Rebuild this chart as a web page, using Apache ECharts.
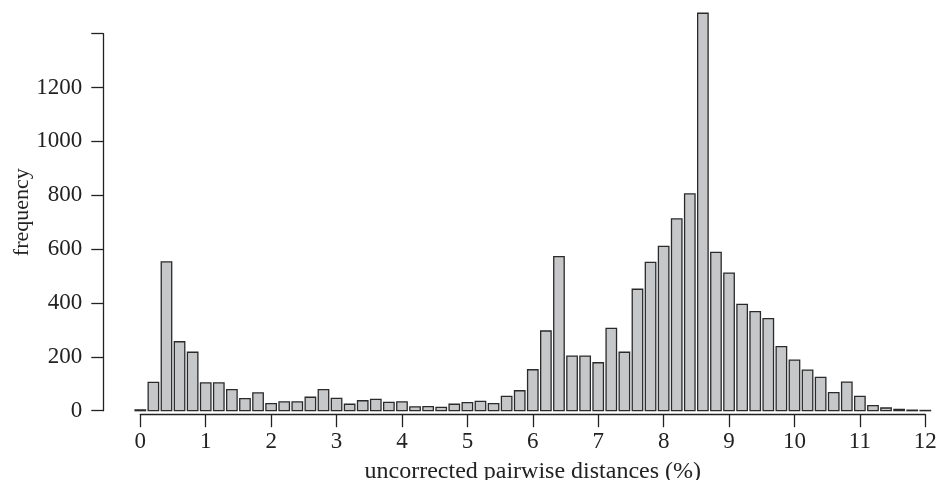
<!DOCTYPE html>
<html>
<head>
<meta charset="utf-8">
<script src="https://cdn.jsdelivr.net/npm/echarts@6/dist/echarts.min.js"></script>
<style>
  html, body { margin: 0; padding: 0; background: #fff; }
  #chart { width: 936px; height: 480px; }
</style>
</head>
<body>
<div id="chart"></div>
<script>
// Bin centres (uncorrected pairwise distance, %)
const binCenters = [
  0.0, 0.2, 0.4, 0.6, 0.8, 1.0, 1.2, 1.4, 1.6, 1.8,
  2.0, 2.2, 2.4, 2.6, 2.8, 3.0, 3.2, 3.4, 3.6, 3.8,
  4.0, 4.2, 4.4, 4.6, 4.8, 5.0, 5.2, 5.4, 5.6, 5.8,
  6.0, 6.2, 6.4, 6.6, 6.8, 7.0, 7.2, 7.4, 7.6, 7.8,
  8.0, 8.2, 8.4, 8.6, 8.8, 9.0, 9.2, 9.4, 9.6, 9.8,
  10.0, 10.2, 10.4, 10.6, 10.8, 11.0, 11.2, 11.4, 11.6, 11.8,
  12.0
];
// Frequencies
const frequencies = [
  3, 105, 553, 256, 217, 103, 103, 78, 45, 66,
  26, 33, 33, 50, 78, 46, 24, 37, 42, 31,
  33, 14, 15, 12, 24, 30, 35, 26, 53, 74,
  152, 296, 572, 203, 203, 178, 306, 217, 451, 551,
  610, 712, 805, 1476, 588, 511, 395, 368, 342, 238,
  188, 151, 124, 67, 106, 53, 19, 10, 5, 2,
  1
];
const xTicks = [0, 1, 2, 3, 4, 5, 6, 7, 8, 9, 10, 11, 12];
const yTicks = [0, 200, 400, 600, 800, 1000, 1200, 1400];
const xTitle = 'uncorrected pairwise distances (%)';
const yTitle = 'frequency';

const halfWidth = 0.08;
const seriesData = binCenters.map((c, i) => [c, frequencies[i]]);

const FONT = 'Liberation Serif';
const chart = echarts.init(document.getElementById('chart'), null, { renderer: 'canvas' });
chart.setOption({
  backgroundColor: '#ffffff',
  animation: false,
  grid: { left: 140.3, right: 10.7, top: 33.7, bottom: 69.3, containLabel: false, outerBoundsMode: 'none' },
  xAxis: {
    type: 'value',
    min: xTicks[0],
    max: xTicks[xTicks.length - 1],
    interval: 1,
    offset: 3.5,
    name: xTitle,
    nameLocation: 'middle',
    nameGap: 46,
    nameMoveOverlap: false,
    nameTextStyle: { fontFamily: FONT, fontSize: 24, color: '#222' },
    splitLine: { show: false },
    axisLine: { show: true, onZero: false, lineStyle: { color: '#222', width: 1.3 } },
    axisTick: { show: true, inside: false, length: 13, lineStyle: { color: '#222', width: 1.3 } },
    axisLabel: { fontFamily: FONT, fontSize: 23, color: '#222', margin: 16 }
  },
  yAxis: {
    type: 'value',
    min: yTicks[0],
    max: yTicks[yTicks.length - 1],
    interval: 200,
    offset: 37,
    name: yTitle,
    nameLocation: 'middle',
    nameGap: 70,
    nameRotate: 90,
    nameMoveOverlap: false,
    nameTextStyle: { fontFamily: FONT, fontSize: 22, color: '#222', padding: [0, 0, 0, 20] },
    splitLine: { show: false },
    axisLine: { show: true, onZero: false, lineStyle: { color: '#222', width: 1.3 } },
    axisTick: { show: true, inside: false, length: 12, lineStyle: { color: '#222', width: 1.3 } },
    axisLabel: {
      fontFamily: FONT, fontSize: 23, color: '#222', margin: 21,
      formatter: v => (v === 1400 ? '' : String(v))
    }
  },
  series: [{
    type: 'custom',
    clip: false,
    data: seriesData,
    renderItem: function (params, api) {
      const x = api.value(0), y = api.value(1);
      const p0 = api.coord([x - halfWidth, y]);
      const p1 = api.coord([x + halfWidth, 0]);
      return {
        type: 'rect',
        shape: { x: p0[0], y: p0[1], width: p1[0] - p0[0], height: p1[1] - p0[1] },
        style: { fill: '#c6c7c9', stroke: '#2a2a2a', lineWidth: 1.3 }
      };
    }
  }]
});
</script>
</body>
</html>
